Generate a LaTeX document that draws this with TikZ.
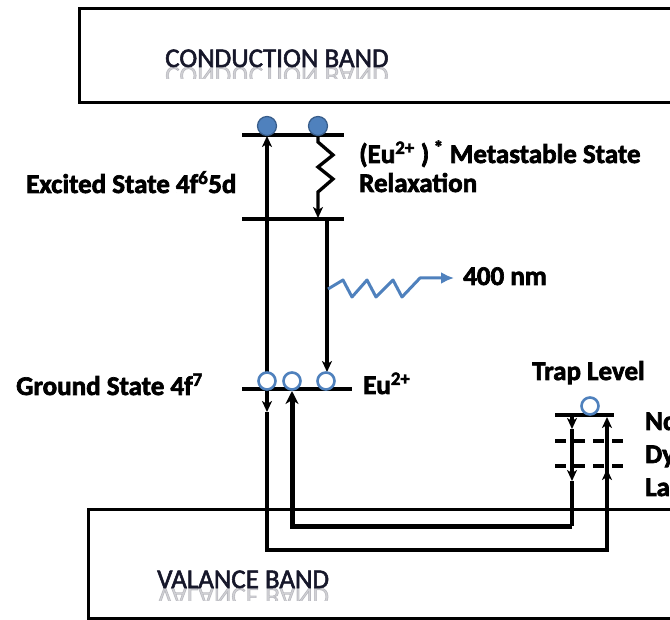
\documentclass[tikz,border=0pt]{standalone}
\usepackage{fontspec}
\setmainfont{Carlito}[BoldFeatures={FakeBold=2.5}]
\newfontfamily\bandfont{Carlito}[FakeBold=2]
\usetikzlibrary{arrows.meta}
\definecolor{eublue}{HTML}{4F81BD}
\definecolor{eudark}{HTML}{385D8A}
\definecolor{bandtxt}{HTML}{16172A}
\begin{document}
\begin{tikzpicture}[x=1pt,y=-1pt,
  lbl/.style={font=\fontsize{27}{30}\selectfont\bfseries, inner sep=0pt, anchor=base west},
  bandlbl/.style={font=\bandfont\fontsize{27}{30}\selectfont, text=bandtxt, inner sep=0pt, anchor=base west},
  bandbox/.style={draw, line width=3.2pt},
  lvl/.style={line width=3.4pt},
  wire/.style={line width=3.3pt},
  thickwire/.style={line width=5pt},
  tip/.style={-{Stealth[length=11pt,width=10pt,inset=3pt]}},
  bigtip/.style={-{Stealth[length=13pt,width=13pt,inset=4pt]}},
  dashlvl/.style={line width=3.2pt, dash pattern=on 11pt off 8pt},
  fullE/.style={circle, minimum size=19pt, inner sep=0pt, fill=eublue, draw=eudark, line width=1.2pt},
  hole/.style={circle, minimum size=17pt, inner sep=0pt, fill=white, draw=eublue, line width=2.6pt},
  photon/.style={draw=eublue, line width=3pt, line join=round, -{Latex[length=13pt,width=12pt]}}
]
\useasboundingbox (0,0) rectangle (670,620);
\fill[white] (0,0) rectangle (670,620);
\clip (0,0) rectangle (670,620);

% bands
\node[bandbox, minimum width=610pt, minimum height=94pt, anchor=north west, inner sep=0pt] (cb) at (78,7) {};
\node[bandbox, minimum width=600pt, minimum height=109pt, anchor=north west, inner sep=0pt] (vb) at (87,508) {};
\node[bandlbl] (cbt) at (165,67) {CONDUCTION BAND};
\node[bandlbl] (vbt) at (157,588) {VALANCE BAND};
\begin{scope}
  \clip (140,67) rectangle (420,79);
  \node[bandlbl, yscale=-1, opacity=.2] (cbr) at (165,67) {CONDUCTION BAND};
\end{scope}
\begin{scope}
  \clip (140,588) rectangle (420,600);
  \node[bandlbl, yscale=-1, opacity=.2] (vbr) at (157,588) {VALANCE BAND};
\end{scope}

% level coordinates
\coordinate (exTL) at (242,135);
\coordinate (exTR) at (344,135);
\coordinate (exBL) at (242,219);
\coordinate (exBR) at (344,219);
\coordinate (gL) at (242,389);
\coordinate (gR) at (352,389);
\coordinate (tL) at (555,415);
\coordinate (tR) at (614,415);

% energy levels
\draw[lvl] (exTL) -- (exTR);
\draw[lvl] (exBL) -- (exBR);
\draw[lvl] (gL) -- (gR);
\draw[lvl] (tL) -- (tR);
\coordinate (d1L) at (555,441);
\coordinate (d1R) at (624,441);
\coordinate (d2L) at (555,466);
\coordinate (d2R) at (624,466);
\draw[dashlvl] (d1L) -- (d1R);
\draw[dashlvl] (d2L) -- (d2R);

% excitation line x=267
\coordinate (a0) at (267,389);
\coordinate (a1) at (267,136);
\coordinate (a2) at (267,412);
\coordinate (a3) at (267,550);
\coordinate (a4) at (607,550);
\coordinate (a5) at (607,469);
\coordinate (a6) at (607,417);
\draw[wire, tip] (a0) -- (a1);
\draw[wire, tip] (a0) -- (a2);
\draw[wire, line join=miter] (a2) -- (a3) -- (a4) -- (a5);
\draw[wire, tip] (a4) -- (a5);
\draw[wire, tip] (a5) -- (a6);

% thick return loop x=292
\coordinate (b0) at (572,415);
\coordinate (b1) at (572,429);
\coordinate (b2) at (572,481);
\coordinate (b3) at (572,526);
\coordinate (b4) at (292,526);
\coordinate (b5) at (292,391);
\draw[wire, tip] (b0) -- (b1);
\draw[wire, tip] (b1) -- (b2);
\draw[wire] (b2) -- (b3);
\draw[thickwire, line join=miter] (b3) -- (b4) -- (292,470);
\draw[thickwire, bigtip] (292,470) -- (b5);

% relaxation zigzag
\coordinate (z0) at (318,136);
\coordinate (z1) at (318,218);
\draw[wire, line join=miter, tip] (z0) -- (318,142) -- (333,155) -- (318,167) -- (333,179) -- (318,192) -- (z1);

% emission line x=327
\coordinate (e0) at (327,219);
\coordinate (e1) at (327,372);
\draw[wire, tip] (e0) -- (e1);

% photon
\coordinate (p0) at (328,289);
\coordinate (p1) at (454,278);
\draw[photon] (p0) -- (343,280) -- (352,297) -- (367,280) -- (376,297) -- (393,280) -- (402,297) -- (420,278) -- (p1);

% electrons and holes
\node[fullE] (ex1) at (267,126) {};
\node[fullE] (ex2) at (318,126) {};
\node[hole] (h1) at (267,381) {};
\node[hole] (h2) at (292,381) {};
\node[hole] (h3) at (326,381) {};
\node[hole] (h4) at (590,406) {};

% labels
\node[lbl] (meta) at (359,163) {(Eu\textsuperscript{2+} )\,\textsuperscript{*} Metastable State};
\node[lbl] (relax) at (359,192) {Relaxation};
\node[lbl] (excited) at (26,193) {Excited State 4f\textsuperscript{6}5d};
\node[lbl] (ground) at (16,395) {Ground State 4f\textsuperscript{7}};
\node[lbl] (eu) at (363,394) {Eu\textsuperscript{2+}};
\node[lbl] (nm) at (463,285) {400 nm};
\node[lbl] (trap) at (532,380) {Trap Level};
\node[lbl] (nd) at (645,430) {Nd};
\node[lbl] (dy) at (645,463) {Dy};
\node[lbl] (la) at (645,496) {La};
\end{tikzpicture}
\end{document}
